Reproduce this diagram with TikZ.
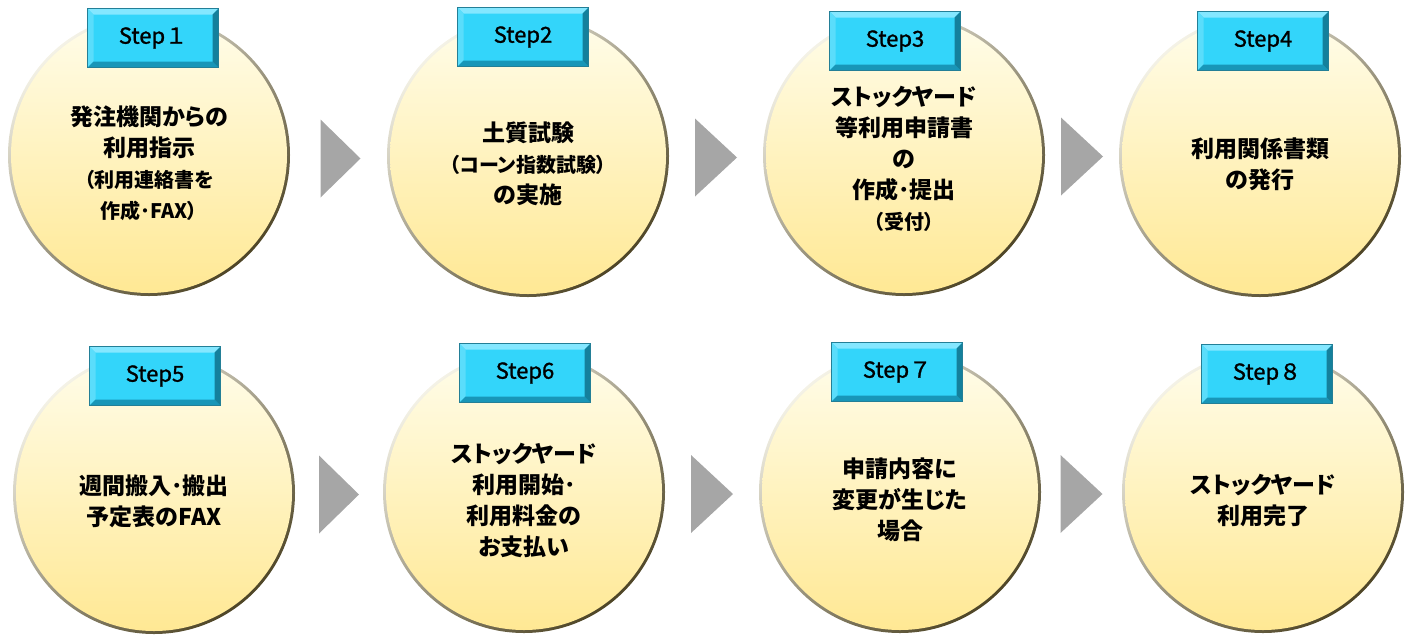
\documentclass[tikz,border=0pt]{standalone}
\usepackage{fontspec}
\setmainfont{Noto Sans CJK JP}[RawFeature=+palt]
\newfontfamily\tagfont{Noto Sans CJK JP}[FakeBold=1.2]
\usetikzlibrary{positioning,calc}
\definecolor{tagcyan}{HTML}{33D5FA}
\definecolor{taglight}{HTML}{84E7FF}
\definecolor{tagmid}{HTML}{5ADDFB}
\definecolor{tagdark}{HTML}{1896B8}
\definecolor{tagedge}{HTML}{237F97}
\definecolor{ballcream}{HTML}{FFFDEB}
\definecolor{ballyellow}{HTML}{FFE893}
\definecolor{rimlight}{HTML}{F4F2E6}
\definecolor{rimdark}{HTML}{4E4526}
\definecolor{arrowgray}{HTML}{A6A6A6}
\newcommand{\subtxt}[1]{{\fontsize{20}{31}\selectfont #1}}
\tikzset{
  ball/.style={circle, minimum size=282pt, inner sep=0pt,
               top color=rimlight, bottom color=rimdark, shading angle=40,
               path picture={\shade[top color=ballcream, bottom color=ballyellow]
                 (path picture bounding box.center) circle (138pt);}},
  balltext/.style={align=center, inner sep=0pt, yshift=-8pt,
                   font=\fontsize{23}{31}\selectfont\bfseries},
  tagbox/.style={rectangle, minimum width=131pt, minimum height=59pt, inner sep=0pt,
                 fill=tagcyan, draw=tagedge, line width=0.6pt,
                 font=\tagfont\fontsize{22}{24}\selectfont,
                 path picture={
                   \fill[taglight] (path picture bounding box.north west) -- (path picture bounding box.north east)
                     -- ([xshift=-6pt,yshift=-6pt]path picture bounding box.north east)
                     -- ([xshift=6pt,yshift=-6pt]path picture bounding box.north west) -- cycle;
                   \fill[tagmid] (path picture bounding box.north west) -- ([xshift=6pt,yshift=-6pt]path picture bounding box.north west)
                     -- ([xshift=6pt,yshift=6pt]path picture bounding box.south west)
                     -- (path picture bounding box.south west) -- cycle;
                   \fill[tagdark] (path picture bounding box.south west) -- (path picture bounding box.south east)
                     -- ([xshift=-6pt,yshift=6pt]path picture bounding box.south east)
                     -- ([xshift=6pt,yshift=6pt]path picture bounding box.south west) -- cycle;
                   \fill[tagdark!85!black] (path picture bounding box.north east) -- ([xshift=-6pt,yshift=-6pt]path picture bounding box.north east)
                     -- ([xshift=-6pt,yshift=6pt]path picture bounding box.south east)
                     -- (path picture bounding box.south east) -- cycle;}},
  pointer/.style={fill=arrowgray},
}

\begin{document}
\begin{tikzpicture}[x=1pt, y=-1pt]
\useasboundingbox (0,0) rectangle (1411,638);
% upper row
\node[ball] (b1) at (149,155) {};
\node[ball] (b2) at (528,156) {};
\node[ball] (b3) at (904,155) {};
\node[ball] (b4) at (1260,156) {};
\node[balltext] (x1) at (b1) {発注機関からの\\利用指示\\\subtxt{（利用連絡書を}\\\subtxt{作成･FAX）}};
\node[balltext] (x2) at (b2) {土質試験\\\subtxt{（コーン指数試験）}\\の実施};
\node[balltext, yshift=4pt] (x3) at (b3) {ストックヤード\\等利用申請書\\の\\作成･提出\\\subtxt{（受付）}};
\node[balltext] (x4) at (b4) {利用関係書類\\の発行};
\node[tagbox] (t1) at (153,38) {Step１};
\node[tagbox] (t2) at (523,37) {Step2};
\node[tagbox] (t3) at (895,41) {Step3};
\node[tagbox] (t4) at (1263,41) {Step4};
% lower row
\node[ball] (b5) at (154,493) {};
\node[ball] (b6) at (524,492) {};
\node[ball] (b7) at (900,492) {};
\node[ball] (b8) at (1263,492) {};
\node[balltext] (x5) at (b5) {週間搬入･搬出\\予定表のFAX};
\node[balltext] (x6) at (b6) {ストックヤード\\利用開始･\\利用料金の\\お支払い};
\node[balltext] (x7) at (b7) {申請内容に\\変更が生じた\\場合};
\node[balltext] (x8) at (b8) {ストックヤード\\利用完了};
\node[tagbox] (t5) at (155,376) {Step5};
\node[tagbox] (t6) at (525,373) {Step6};
\node[tagbox] (t7) at (897,372) {Step７};
\node[tagbox] (t8) at (1267,374) {Step８};
% arrows
\coordinate (m1) at ($(b1.east)!0.5!(b2.west)+(2,3)$);
\coordinate (m2) at ($(b2.east)!0.5!(b3.west)+(0,2)$);
\coordinate (m3) at ($(b3.east)!0.5!(b4.west)+(0,1)$);
\coordinate (m5) at ($(b5.east)!0.5!(b6.west)+(0,2)$);
\coordinate (m6) at ($(b6.east)!0.5!(b7.west)+(0,2)$);
\coordinate (m7) at ($(b7.east)!0.5!(b8.west)+(0,2)$);
\fill[pointer] ($(m1)+(-20,-39)$) -- ($(m1)+(20,0)$) -- ($(m1)+(-20,39)$) -- cycle;
\fill[pointer] ($(m2)+(-21,-39)$) -- ($(m2)+(21,0)$) -- ($(m2)+(-21,39)$) -- cycle;
\fill[pointer] ($(m3)+(-21,-39)$) -- ($(m3)+(21,0)$) -- ($(m3)+(-21,39)$) -- cycle;
\fill[pointer] ($(m5)+(-20,-39)$) -- ($(m5)+(20,0)$) -- ($(m5)+(-20,39)$) -- cycle;
\fill[pointer] ($(m6)+(-21,-39)$) -- ($(m6)+(21,0)$) -- ($(m6)+(-21,39)$) -- cycle;
\fill[pointer] ($(m7)+(-21,-39)$) -- ($(m7)+(21,0)$) -- ($(m7)+(-21,39)$) -- cycle;
\end{tikzpicture}
\end{document}
